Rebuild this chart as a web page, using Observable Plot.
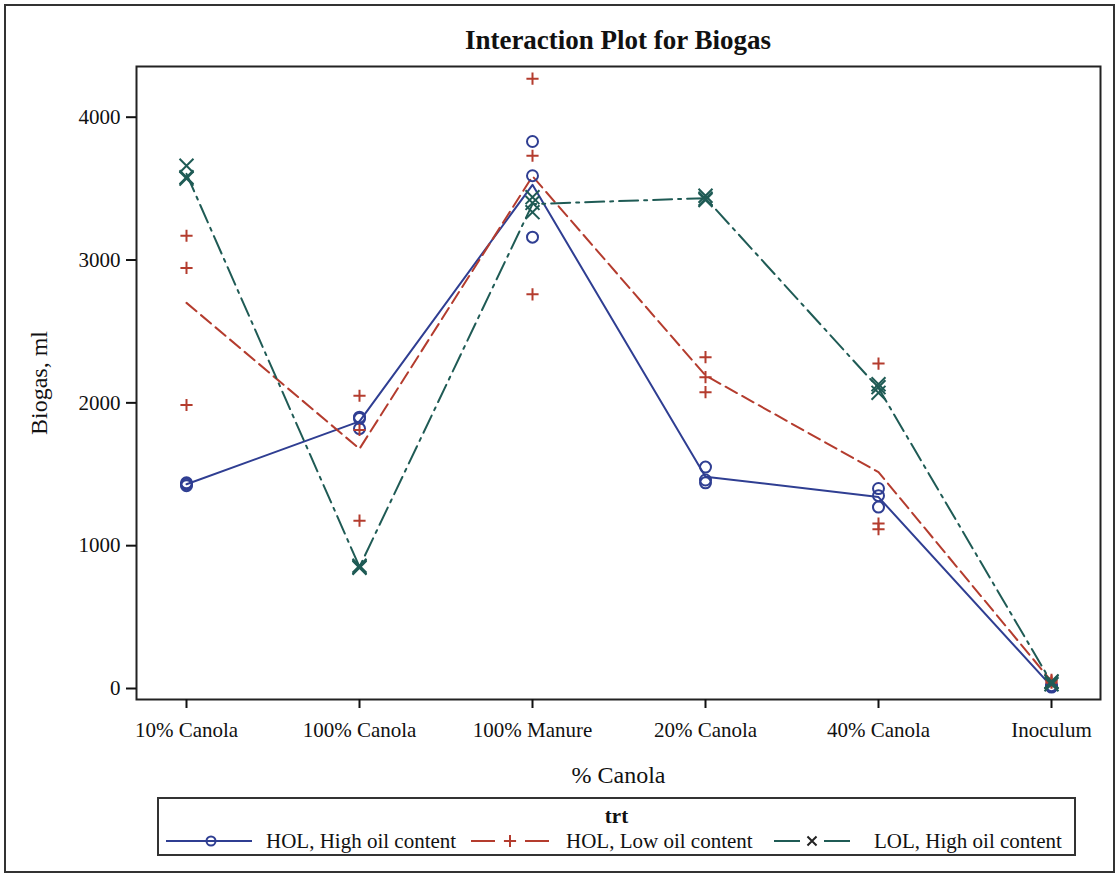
<!DOCTYPE html>
<html>
<head>
<meta charset="utf-8">
<script src="https://cdn.jsdelivr.net/npm/d3@7"></script>
<script src="https://cdn.jsdelivr.net/npm/@observablehq/plot@0.6"></script>
<style>
  html, body { margin:0; padding:0; background:#fff; }
  #wrap { position:relative; width:1119px; height:877px; overflow:hidden; font-family:"Liberation Serif", "Times New Roman", serif; color:#111; }
  #border { position:absolute; left:4px; top:4px; width:1107px; height:865px; border:2px solid #333; }
  #title { position:absolute; left:136px; width:964px; top:24px; text-align:center; font-weight:bold; font-size:27px; line-height:32px; }
  #chart { position:absolute; left:0; top:0; }
  #legend { position:absolute; left:157px; top:797px; width:915px; height:55px; border:2px solid #333; }
  #legend .head { position:absolute; left:0; width:100%; top:5px; text-align:center; font-weight:bold; font-size:21px; line-height:24px; }
  #legend .sw { position:absolute; top:32px; }
  #legend .txt { position:absolute; top:30px; font-size:21px; line-height:24px; white-space:nowrap; }
  g[aria-label="y-axis label"] text, g[aria-label="x-axis label"] text { font-size:24px; }
</style>
</head>
<body>
<div id="wrap">
  <div id="border"></div>
  <div id="title">Interaction Plot for Biogas</div>
  <div id="chart"></div>
  <div id="legend"><div class="head">trt</div></div>
</div>
<script>
const categories = ["10% Canola", "100% Canola", "100% Manure", "20% Canola", "40% Canola", "Inoculum"];
const seriesNames = ["HOL, High oil content", "HOL, Low oil content", "LOL, High oil content"];
const yTicks = [0, 1000, 2000, 3000, 4000];

// replicate values per category (three replicates each)
const holHigh = [[1440, 1430, 1420], [1900, 1890, 1820], [3830, 3590, 3160], [1550, 1460, 1440], [1400, 1350, 1270], [10, 15, 20]];
const holLow  = [[3170, 2945, 1985], [2050, 1810, 1175], [4270, 3730, 2760], [2320, 2180, 2075], [2275, 1155, 1115], [60, 40, 50]];
const lolHigh = [[3660, 3580, 3570], [860, 850, 845], [3440, 3400, 3335], [3450, 3430, 3420], [2130, 2110, 2070], [45, 30, 50]];

const colors = ["#2f3e92", "#b43c2e", "#1f5b55"];
const dashes = [null, "13,6", "19,6,3,6"];
const symbols = ["circle", "plus", "times"];
const symR = [5.5, 4, 6.4];

const seriesValues = [holHigh, holLow, lolHigh];
const rows = [];
seriesValues.forEach((vals, s) => vals.forEach((arr, i) => arr.forEach(v => rows.push({trt: seriesNames[s], cat: categories[i], v}))));

const marks = [
  Plot.frame({stroke: "#222", strokeWidth: 2}),
  Plot.axisX({tickSize: 9, tickPadding: 14, strokeWidth: 2, label: "% Canola", labelAnchor: "center", labelOffset: 83, labelArrow: "none"}),
  Plot.axisY({ticks: yTicks, tickSize: 10, tickPadding: 6, strokeWidth: 2, tickFormat: d => String(d), label: "Biogas, ml", labelAnchor: "center", labelOffset: 107, labelArrow: "none"})
];
seriesNames.forEach((name, s) => {
  const d = rows.filter(r => r.trt === name);
  marks.push(Plot.lineY(d, Plot.groupX({y: "mean"}, {x: "cat", y: "v", stroke: colors[s], strokeWidth: 2, strokeDasharray: dashes[s]})));
});
seriesNames.forEach((name, s) => {
  const d = rows.filter(r => r.trt === name);
  marks.push(Plot.dot(d, {x: "cat", y: "v", symbol: symbols[s], r: symR[s], stroke: colors[s], strokeWidth: 2, fill: "none"}));
});

const chart = Plot.plot({
  width: 1119, height: 790,
  marginTop: 66, marginBottom: 91, marginLeft: 136, marginRight: 19,
  style: {fontFamily: "Liberation Serif, serif", fontSize: "21px", color: "#111", background: "transparent", overflow: "visible"},
  x: {type: "point", domain: categories, padding: 0.278, label: null},
  y: {domain: [-77, 4355], label: null},
  marks
});
document.getElementById("chart").appendChild(chart);

// legend (layout positions relative to legend box)
const legend = document.getElementById("legend");
const swLeft = [7, 312, 615];
const swWidth = [86, 78, 76];
const txtLeft = [107, 407, 715];
seriesNames.forEach((name, s) => {
  const w = swWidth[s];
  const sw = d3.create("svg").attr("class", "sw").attr("width", w).attr("height", 20).style("left", swLeft[s] + "px");
  const cx = s === 0 ? 45 : w / 2;
  if (s === 0) {
    sw.append("line").attr("x1", 0).attr("x2", w).attr("y1", 10).attr("y2", 10).attr("stroke", colors[s]).attr("stroke-width", 2);
  } else {
    const gap = s === 1 ? 15 : 12;
    const end = s === 1 ? 24 : w / 2 - gap;
    sw.append("line").attr("x1", 0).attr("x2", end).attr("y1", 10).attr("y2", 10).attr("stroke", colors[s]).attr("stroke-width", 2);
    sw.append("line").attr("x1", w - end).attr("x2", w).attr("y1", 10).attr("y2", 10).attr("stroke", colors[s]).attr("stroke-width", 2);
  }
  const sym = {circle: d3.symbolCircle, plus: d3.symbolPlus, times: d3.symbolTimes}[symbols[s]];
  const r = [4.5, 4, 4.2][s];
  sw.append("path").attr("d", d3.symbol(sym, r * r * Math.PI)()).attr("transform", `translate(${cx},10)`)
    .attr("fill", "none").attr("stroke", s === 2 ? "#222" : colors[s]).attr("stroke-width", 2);
  legend.appendChild(sw.node());
  const t = document.createElement("div");
  t.className = "txt";
  t.style.left = txtLeft[s] + "px";
  t.textContent = name;
  legend.appendChild(t);
});
</script>
</body>
</html>
